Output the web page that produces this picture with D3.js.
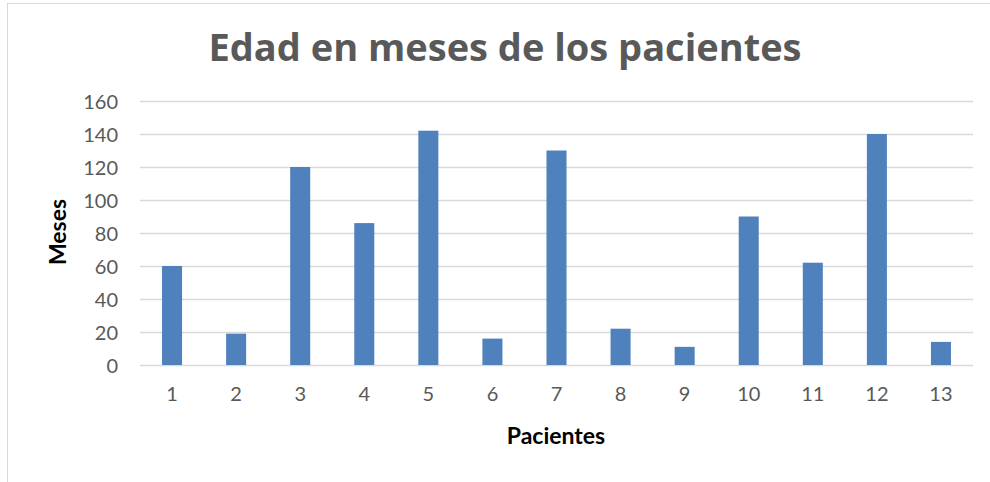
<!DOCTYPE html>
<html>
<head>
<meta charset="utf-8">
<script src="https://cdn.jsdelivr.net/npm/d3@7"></script>
<style>
  body { margin: 0; background: #fff; }
  .tick text { font-family: Lato, "Open Sans", sans-serif; font-size: 20px; fill: #595959; }
</style>
</head>
<body>
<div id="chart"></div>
<script>
// data
var pacientes = ["1", "2", "3", "4", "5", "6", "7", "8", "9", "10", "11", "12", "13"];
var meses = [60, 19, 120, 86, 142, 16, 130, 22, 11, 90, 62, 140, 14];
var yTicks = [0, 20, 40, 60, 80, 100, 120, 140, 160];

var width = 990;
var height = 482;
var margin = {top: 101, right: 17, bottom: 117, left: 140};
var w = width - margin.left - margin.right;
var h = height - margin.top - margin.bottom;

var svg = d3.select("#chart").append("svg")
    .attr("width", width)
    .attr("height", height);

// outer chart border
svg.append("rect")
    .attr("x", 7.5)
    .attr("y", 3.5)
    .attr("width", 1000)
    .attr("height", 500)
    .attr("fill", "none")
    .attr("stroke", "#d9d9d9");

svg.append("text")
    .attr("x", 505)
    .attr("y", 61)
    .attr("text-anchor", "middle")
    .style("font-family", "'Open Sans', sans-serif")
    .style("font-weight", "bold")
    .style("font-size", "38px")
    .style("fill", "#595959")
    .text("Edad en meses de los pacientes");

var g = svg.append("g")
    .attr("transform", "translate(" + margin.left + "," + margin.top + ")");

var x = d3.scaleBand()
    .domain(pacientes)
    .range([0, w])
    .paddingInner(0.6875)
    .paddingOuter(0.34375);

var y = d3.scaleLinear()
    .domain([0, 160])
    .range([h, 0]);

// gridlines + y labels
var yAxis = d3.axisLeft(y)
    .tickValues(yTicks)
    .tickSize(-w)
    .tickPadding(22);

g.append("g")
    .attr("class", "axis y")
    .call(yAxis)
    .call(function(s) {
        s.select(".domain").remove();
        s.selectAll(".tick line").attr("stroke", "#d9d9d9").attr("stroke-width", 1.5);
        s.selectAll(".tick text").attr("dy", "0.35em");
    });

g.selectAll("rect.bar")
    .data(meses)
    .enter().append("rect")
    .attr("class", "bar")
    .attr("x", function(d, i) { return x(pacientes[i]); })
    .attr("width", x.bandwidth())
    .attr("y", function(d) { return y(d); })
    .attr("height", function(d) { return h - y(d); })
    .attr("fill", "#4f81bd");

var xAxis = d3.axisBottom(x)
    .tickSize(0)
    .tickPadding(22);

g.append("g")
    .attr("class", "axis x")
    .attr("transform", "translate(0," + h + ")")
    .call(xAxis)
    .call(function(s) { s.select(".domain").remove(); });

g.append("text")
    .attr("x", 416)
    .attr("y", h + 79)
    .attr("text-anchor", "middle")
    .style("font-family", "Lato, sans-serif")
    .style("font-weight", "bold")
    .style("font-size", "23px")
    .style("fill", "#000")
    .text("Pacientes");

svg.append("text")
    .attr("transform", "translate(66,232) rotate(-90)")
    .attr("text-anchor", "middle")
    .style("font-family", "Lato, sans-serif")
    .style("font-weight", "bold")
    .style("font-size", "23px")
    .style("fill", "#000")
    .text("Meses");
</script>
</body>
</html>
